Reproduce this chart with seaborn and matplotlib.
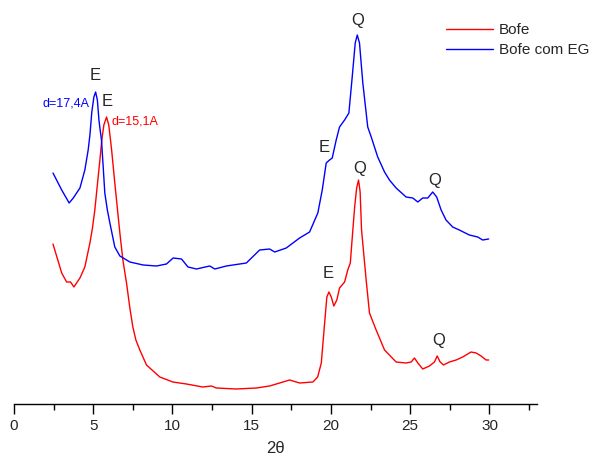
import pandas as pd
import matplotlib
matplotlib.use("Agg")
import matplotlib.pyplot as plt
import seaborn as sns
from matplotlib.ticker import MultipleLocator

# Bofe (vermelho)
bofe_2theta = [2.46, 3.01, 3.32, 3.57, 3.78, 4.16, 4.47, 4.79, 4.95, 5.10, 5.31, 5.42,
               5.54, 5.67, 5.84, 5.98, 6.16, 6.36, 6.52, 6.68, 6.87, 7.10, 7.31, 7.50,
               7.69, 7.94, 8.36, 9.20, 10.02, 10.88, 11.91,
               12.46, 12.77, 14.03, 15.29, 16.13, 17.39, 18.02, 18.86, 19.16, 19.39,
               19.60, 19.74, 19.87, 20.02, 20.18, 20.37, 20.54, 20.86, 21.06, 21.22,
               21.38, 21.50, 21.62, 21.74, 21.84, 21.93, 22.22, 22.43, 22.85, 23.38,
               24.11, 24.74, 25.06, 25.27, 25.48, 25.79, 26.21, 26.53, 26.70, 26.89,
               27.10, 27.47, 27.90, 28.31, 28.84, 29.16, 29.47, 29.79, 29.95]
bofe_int = [160, 131, 122, 122, 117, 126, 137, 161, 176, 194, 227, 244,
            264, 279, 287, 279, 254, 221, 196, 171, 144, 121, 96, 77,
            64, 54, 39, 27, 22, 20, 17,
            18, 16, 15, 16, 18, 24, 21, 22, 27, 41,
            81, 107, 112, 107, 98, 104, 116, 122, 134, 141,
            174, 198, 216, 224, 212, 174, 124, 91, 74, 54,
            42, 41, 42, 46, 41, 35, 38, 42, 48, 42,
            39, 42, 44, 47, 52, 51, 48, 44, 44]

# Bofe com EG (azul)
eg_2theta = [2.46, 3.01, 3.48, 3.74, 4.16, 4.47, 4.68, 4.79, 4.91, 5.04, 5.15, 5.26,
             5.36, 5.42, 5.52, 5.64, 5.73, 5.89,
             6.05, 6.36, 6.68, 7.31, 8.15, 8.99, 9.62, 10.04, 10.57, 10.98, 11.51,
             12.35, 12.67, 13.40, 14.66, 15.50, 16.13, 16.45, 17.18, 18.02, 18.65,
             19.17, 19.45, 19.70, 19.91, 20.08, 20.33, 20.54, 20.86, 21.13, 21.34,
             21.53, 21.66, 21.80, 22.01, 22.32, 22.54, 22.95, 23.38, 23.69, 24.11,
             24.74, 25.16, 25.48, 25.79, 26.11, 26.42, 26.67, 26.95, 27.26, 27.68,
             28.10, 28.73, 29.26, 29.57, 29.95]
eg_int = [231, 214, 201, 206, 216, 234, 254, 269, 292, 307, 312, 304,
          284, 276, 264, 234, 211, 194,
          181, 157, 148, 142, 139, 138, 140, 146, 145, 137, 135,
          138, 135, 138, 141, 154, 155, 152, 156, 166, 172,
          191, 214, 241, 244, 246, 264, 277, 284, 291, 327,
          361, 369, 361, 321, 277, 267, 247, 232, 224, 216,
          207, 206, 202, 206, 206, 212, 207, 194, 184, 177,
          174, 169, 167, 164, 165]

df = pd.concat([
    pd.DataFrame({"2theta": bofe_2theta, "I": bofe_int, "amostra": "Bofe"}),
    pd.DataFrame({"2theta": eg_2theta, "I": eg_int, "amostra": "Bofe com EG"}),
])

sns.set_style("white")
plt.rcParams["font.family"] = ["Liberation Sans", "DejaVu Sans"]

fig = plt.figure(figsize=(6.09, 4.57), dpi=100)
ax = fig.add_axes([14 / 609, 1 - 404 / 457, (537 - 14) / 609, 404 / 457])

sns.lineplot(data=df, x="2theta", y="I", hue="amostra",
             palette={"Bofe": "#ff0000", "Bofe com EG": "#0000ff"},
             linewidth=1.0, ax=ax, sort=False, estimator=None)

ax.set_xlim(0, 33)
ax.set_ylim(0, 404)
ax.set_yticks([])
ax.set_ylabel("")
ax.set_xlabel("2θ", fontsize=12, labelpad=6)
ax.xaxis.set_major_locator(MultipleLocator(5))
ax.xaxis.set_minor_locator(MultipleLocator(2.5))
ax.tick_params(axis="x", which="major", direction="out", length=7, width=1,
               labelsize=11, bottom=True, color="black")
ax.tick_params(axis="x", which="minor", direction="out", length=4, width=1,
               bottom=True, color="black")
for s in ["top", "right", "left"]:
    ax.spines[s].set_visible(False)
ax.spines["bottom"].set_color("black")
ax.spines["bottom"].set_linewidth(1)

# rótulos dos picos
ax.text(5.10, 328, "E", fontsize=12, ha="center", va="center")
ax.text(4.79, 301, "d=17,4A", fontsize=9, color="#0000ff", ha="right", va="center")
ax.text(5.88, 302, "E", fontsize=12, ha="center", va="center")
ax.text(6.16, 282, "d=15,1A", fontsize=9, color="#ff0000", ha="left", va="center")
ax.text(21.70, 383, "Q", fontsize=12, ha="center", va="center")
ax.text(19.60, 257, "E", fontsize=12, ha="center", va="center")
ax.text(21.80, 236, "Q", fontsize=12, ha="center", va="center")
ax.text(26.53, 223, "Q", fontsize=12, ha="center", va="center")
ax.text(19.80, 131, "E", fontsize=12, ha="center", va="center")
ax.text(26.78, 63, "Q", fontsize=12, ha="center", va="center")

ax.legend(loc="upper left", bbox_to_anchor=(446 / 609, 1 - 23 / 457),
          bbox_transform=fig.transFigure, frameon=False, fontsize=11,
          handlelength=3.1, handletextpad=0.35, borderpad=0, borderaxespad=0,
          labelspacing=0.4, title=None)

fig.savefig("out.png", dpi=100)
